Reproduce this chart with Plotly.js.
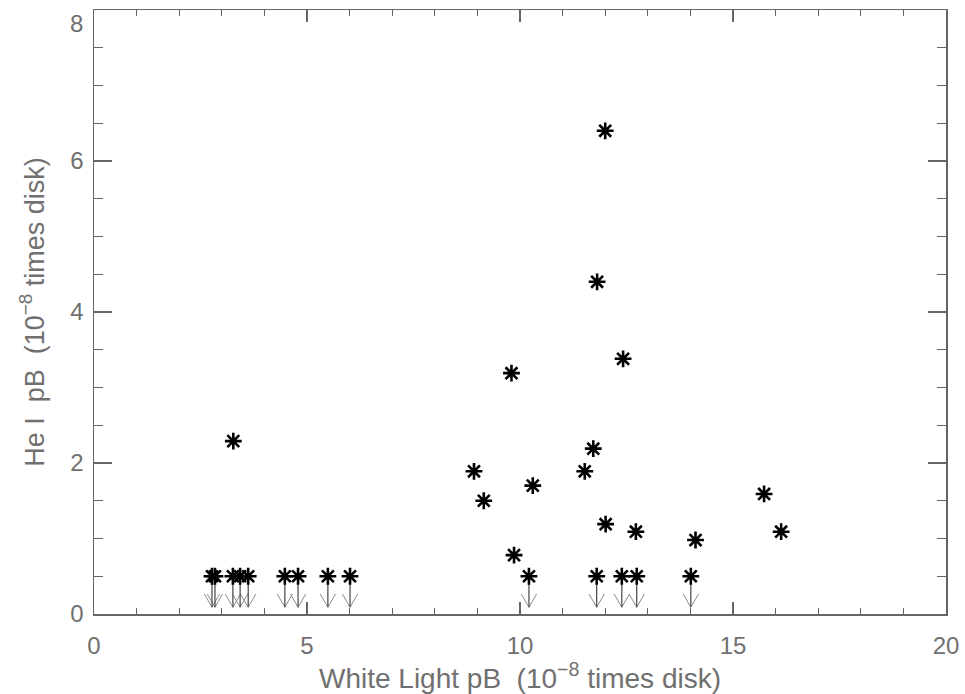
<!DOCTYPE html>
<html>
<head>
<meta charset="utf-8">
<script src="https://cdn.plot.ly/plotly-3.0.1.min.js"></script>
<style>html,body{margin:0;padding:0;background:#fff;}#chart{width:965px;height:694px;}</style>
</head>
<body>
<div id="chart"></div>
<script>
// Detections (White Light pB, He I pB), units of 1e-8 times disk
const detX = [3.27, 8.92, 9.15, 9.80, 9.86, 10.30, 11.52, 11.72, 11.81, 12.00, 12.01, 12.42, 12.72, 14.12, 15.73, 16.13];
const detY = [2.29, 1.89, 1.50, 3.19, 0.78, 1.70, 1.89, 2.19, 4.40, 6.40, 1.19, 3.38, 1.09, 0.98, 1.59, 1.09];
// Upper limits (He I pB < 0.5)
const limX = [2.77, 2.84, 3.26, 3.43, 3.62, 4.48, 4.79, 5.49, 6.01, 10.21, 11.80, 12.39, 12.74, 14.01];
const limY = [0.5, 0.5, 0.5, 0.5, 0.5, 0.5, 0.5, 0.5, 0.5, 0.5, 0.5, 0.5, 0.5, 0.5];
const xTickVals = [0, 5, 10, 15, 20];
const yTickVals = [0, 2, 4, 6, 8];
const xTitle = 'White Light pB  (10<sup>\u22128</sup> times disk)';
const yTitle = 'He I  pB  (10<sup>\u22128</sup> times disk)';

// arrow geometry (style constants, in data units)
const tipY = 0.09, armY = 0.265, halfW = 0.18;
const stemX = [], stemY = [], headX = [], headY = [];
limX.forEach((x, i) => {
  stemX.push(x, x, null); stemY.push(limY[i], tipY, null);
  headX.push(x - halfW, x, x + halfW, null); headY.push(armY, tipY, armY, null);
});

const FONT = '"Liberation Sans", Arial, sans-serif';
const TXT = '#707070';

const traces = [
  {x: headX, y: headY, mode: 'lines', line: {color: '#8a8a8a', width: 1}, hoverinfo: 'skip', showlegend: false},
  {x: stemX, y: stemY, mode: 'lines', line: {color: '#444', width: 1.2}, hoverinfo: 'skip', showlegend: false},
  {x: limX, y: limY, mode: 'markers', marker: {symbol: 'asterisk-open', size: 14, color: '#000', line: {color: '#000', width: 2.6}}, showlegend: false},
  {x: detX, y: detY, mode: 'markers', marker: {symbol: 'asterisk-open', size: 14, color: '#000', line: {color: '#000', width: 2.6}}, showlegend: false}
];

const axisCommon = {
  showgrid: false, zeroline: false, showline: true, linecolor: '#666', linewidth: 1.5,
  mirror: 'allticks', ticks: 'inside', tickcolor: '#666', tickwidth: 1.2,
  ticklabeloverflow: 'allow',
  tickfont: {family: FONT, size: 24, color: TXT},
};

// the top y label is drawn as an annotation so that it is not cut at the page edge
const yTopVal = yTickVals[yTickVals.length - 1];
const yTickText = yTickVals.map((v, i) => i === yTickVals.length - 1 ? '' : String(v));

const layout = {
  width: 965, height: 694,
  margin: {l: 94, r: 19, t: 10, b: 80},
  paper_bgcolor: '#fff', plot_bgcolor: '#fff',
  xaxis: Object.assign({}, axisCommon, {
    range: [0, 20], tickmode: 'array', tickvals: xTickVals, ticktext: xTickVals.map(String),
    ticklen: 12, ticklabelstandoff: 10,
    minor: {dtick: 1, ticks: 'inside', ticklen: 6, tickcolor: '#666', tickwidth: 1.2},
    title: {text: xTitle, font: {family: FONT, size: 28, color: TXT}, standoff: 4}
  }),
  yaxis: Object.assign({}, axisCommon, {
    range: [0, 8], tickmode: 'array', tickvals: yTickVals, ticktext: yTickText,
    ticklen: 18, ticklabelstandoff: 4,
    minor: {dtick: 0.5, ticks: 'inside', ticklen: 9, tickcolor: '#666', tickwidth: 1.2},
    title: {text: yTitle, font: {family: FONT, size: 27, color: TXT}, standoff: 18}
  }),
  annotations: [{
    xref: 'paper', x: 0, yref: 'y', y: yTopVal, text: String(yTopVal), showarrow: false,
    xanchor: 'right', yanchor: 'top', xshift: -9, yshift: 2,
    font: {family: FONT, size: 24, color: TXT}
  }],
  showlegend: false
};

Plotly.newPlot('chart', traces, layout, {staticPlot: true, displayModeBar: false});
</script>
</body>
</html>
